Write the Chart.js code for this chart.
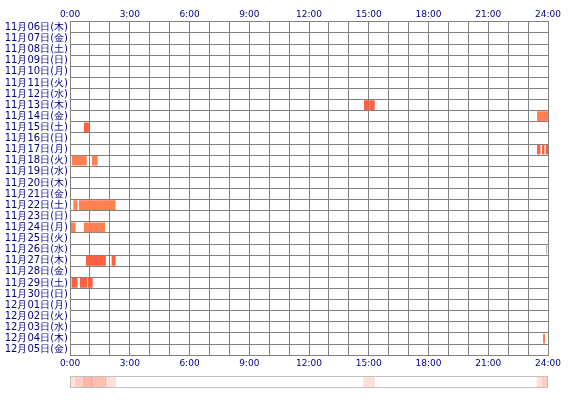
<!DOCTYPE html>
<html><head><meta charset="utf-8">
<script src="https://cdn.jsdelivr.net/npm/chart.js@4"></script>
<style>body{margin:0;background:#fff}#a{position:absolute;left:0;top:0;width:570px;height:372px}#b{position:absolute;left:0;top:372px;width:570px;height:20px}</style>
</head><body>
<div id="a"><canvas id="c1"></canvas></div>
<div id="b"><canvas id="c2"></canvas></div>
<script>
const days = ["11月06日(木)","11月07日(金)","11月08日(土)","11月09日(日)","11月10日(月)","11月11日(火)","11月12日(水)","11月13日(木)","11月14日(金)","11月15日(土)","11月16日(日)","11月17日(月)","11月18日(火)","11月19日(水)","11月20日(木)","11月21日(金)","11月22日(土)","11月23日(日)","11月24日(月)","11月25日(火)","11月26日(水)","11月27日(木)","11月28日(金)","11月29日(土)","11月30日(日)","12月01日(月)","12月02日(火)","12月03日(水)","12月04日(木)","12月05日(金)"];
// [dayIndex, startHour, endHour, colour]
const sessions = [
 [7,14.76,15.0,"#ff6040"],[7,15.02,15.3,"#ff6040"],
 [8,23.45,24.0,"#ff8050"],
 [9,0.7,0.95,"#ff6040"],
 [11,23.45,23.62,"#ff6040"],[11,23.7,23.82,"#ff6040"],[11,23.88,24.0,"#ff6040"],
 [12,0.1,0.84,"#ff8050"],[12,1.1,1.39,"#ff8050"],
 [16,0.17,0.38,"#ff8050"],[16,0.45,2.29,"#ff8050"],
 [18,0.05,0.28,"#ff8050"],[18,0.7,1.76,"#ff8050"],
 [20,23.9,23.96,"#c0c0c0"],
 [21,0.8,1.8,"#ff6040"],[21,2.09,2.29,"#ff6040"],
 [23,0.08,0.38,"#ff6040"],[23,0.5,0.87,"#ff6040"],[23,0.9,1.14,"#ff6040"],
 [28,23.75,23.85,"#ff8050"]
];
// summary strip: [start, end, intensity]
const strip = [[0.05,0.3,0.2],[0.3,0.7,0.3],[0.7,1.1,0.45],[1.1,1.8,0.4],[1.8,2.3,0.2],[14.75,15.3,0.2],[23.45,23.75,0.2],[23.75,24,0.3]];
const tickLbl = v => (v%3===0) ? v+":00" : "";
const navy = "#000080";
const xCommon = {type:"linear",min:0,max:24,ticks:{stepSize:1,autoSkip:false,maxRotation:0,color:navy,font:{family:"DejaVu Sans",size:9},callback:tickLbl,padding:3},border:{color:"#808080"}};
new Chart(document.getElementById("c1"),{
 type:"bar",
 data:{labels:days,datasets:[{data:sessions.map(s=>({x:[s[1],s[2]],y:days[s[0]]})),backgroundColor:sessions.map(s=>s[3]),barPercentage:1,categoryPercentage:0.88,grouped:false}]},
 options:{indexAxis:"y",responsive:true,maintainAspectRatio:false,animation:false,
  layout:{padding:{left:0,right:22,top:7,bottom:0}},
  plugins:{legend:{display:false},tooltip:{enabled:false}},
  scales:{
   x:Object.assign({},xCommon,{position:"bottom",grid:{color:"#808080",drawTicks:false}}),
   x2:Object.assign({},xCommon,{position:"top",grid:{display:false,drawTicks:false},ticks:Object.assign({},xCommon.ticks,{padding:2})}),
   y:{type:"category",offset:true,grid:{offset:true,color:"#808080",drawTicks:false},border:{color:"#808080"},
      ticks:{color:navy,font:{family:"DejaVu Sans",size:10},padding:2,autoSkip:false},
      afterFit:s=>{s.width=70;}}
  }}
});
new Chart(document.getElementById("c2"),{
 type:"bar",
 data:{labels:["s"],datasets:strip.map(s=>({data:[[s[0],s[1]]],backgroundColor:"rgba(255,96,64,"+s[2]+")",barPercentage:1,categoryPercentage:1,grouped:false}))},
 options:{indexAxis:"y",responsive:true,maintainAspectRatio:false,animation:false,
  layout:{padding:{left:70,right:22,top:4,bottom:4}},
  plugins:{legend:{display:false},tooltip:{enabled:false}},
  scales:{x:{type:"linear",min:0,max:24,display:false},y:{display:false}}},
 plugins:[{id:"frame",afterDraw(c){const a=c.chartArea,g=c.ctx;g.save();g.strokeStyle="#c0c0c0";g.lineWidth=1;g.strokeRect(a.left+0.5,a.top+0.5,a.width-1,a.height-1);g.restore();}}]
});
</script></body></html>
